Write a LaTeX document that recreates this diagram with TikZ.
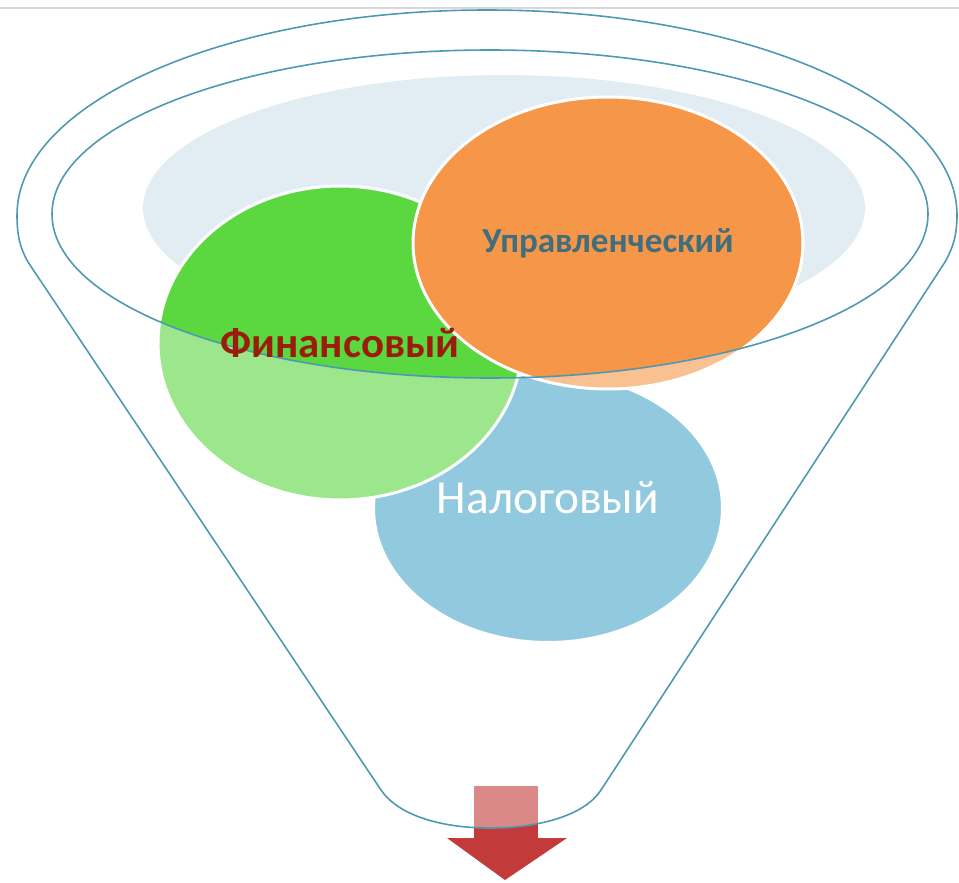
\documentclass[tikz,border=0pt]{standalone}
\usepackage{fontspec}
\setmainfont{Carlito}
\usetikzlibrary{shapes.geometric}

\definecolor{funnelline}{RGB}{78,152,178}
\definecolor{mistblue}{RGB}{226,237,243}
\definecolor{taxblue}{RGB}{73,167,202}
\definecolor{fingreen}{RGB}{91,216,63}
\definecolor{mgmtorange}{RGB}{246,150,72}
\definecolor{arrowred}{RGB}{195,58,58}
\definecolor{fintext}{RGB}{155,28,10}
\definecolor{mgmttext}{RGB}{65,110,125}

\begin{document}
\begin{tikzpicture}[x=0.02cm, y=0.02cm,
    blob/.style={ellipse, draw=white, line width=1.7pt, inner sep=0pt}]
        \useasboundingbox (0,0) rectangle (959,-882);
        \draw[black!15, line width=1pt] (0,-8) -- (959,-8);
        % mouth of the funnel and the three areas
        \node[ellipse, fill=mistblue, inner sep=0pt, minimum width=14.44cm, minimum height=5.32cm] (mist) at (504,-208) {};
        \node[blob, fill=taxblue, minimum width=6.98cm, minimum height=5.38cm] (tax) at (548,-508) {};
        \node[blob, fill=fingreen, minimum width=7.28cm, minimum height=6.28cm] (fin) at (340,-343) {};
        \node[blob, fill=mgmtorange, minimum width=7.8cm, minimum height=5.84cm] (mgmt) at (608,-243) {};
        % arrow out of the funnel
        \fill[arrowred] (474,-786) rectangle (538,-838);
        \fill[arrowred] (447,-838) -- (567,-838) -- (505,-880) -- cycle;
        % funnel body
        \path[fill=white, fill opacity=0.4, draw=funnelline, line width=0.9pt, even odd rule]
            (17,-215) .. controls (17,-102) and (227,-10) .. (487,-10)
            .. controls (747,-10) and (957,-102) .. (957,-215)
            .. controls (957,-235) and (953,-248) .. (945,-262)
            -- (601,-790) .. controls (585,-815) and (540,-828) .. (490,-828)
            .. controls (440,-828) and (398,-815) .. (381,-790)
            -- (28,-262) .. controls (20,-248) and (17,-235) .. cycle
            (490,-214) ellipse [x radius=438, y radius=164];
        \node[text=mgmttext, font=\bfseries\fontsize{20}{24}\selectfont] (mgmtlabel) at (mgmt.center) {Управленческий};
        \node[text=fintext, font=\bfseries\fontsize{24.4}{29}\selectfont] (finlabel) at (fin.center) {Финансовый};
        \node[text=white, font=\fontsize{27}{32}\selectfont] (taxlabel) at (548,-498) {Налоговый};
\end{tikzpicture}
\end{document}
